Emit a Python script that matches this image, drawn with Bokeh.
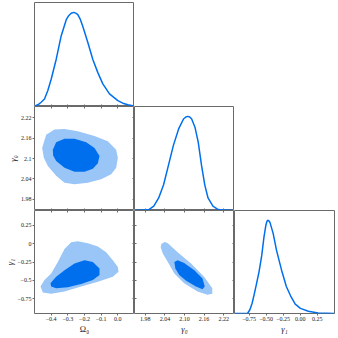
from bokeh.plotting import figure
from bokeh.models import LinearAxis, FixedTicker, Range1d
from bokeh.layouts import gridplot
from bokeh.embed import file_html
from bokeh.resources import INLINE

# ---------------- data ----------------
omega_ticks = [-0.4, -0.3, -0.2, -0.1, 0.0]
omega_labels = ["−0.4", "−0.3", "−0.2", "−0.1", "0.0"]
g0_ticks = [1.98, 2.04, 2.10, 2.16, 2.22]
g0_xlabels = ["1.98", "2.04", "2.10", "2.16", "2.22"]
g0_ylabels = ["1.98", "2.04", "2.1", "2.16", "2.22"]
g1_ticks = [-0.75, -0.5, -0.25, 0.0, 0.25]
g1_xlabels = ["−0.75", "−0.50", "−0.25", "0.00", "0.25"]
g1_ylabels = ["−0.75", "−0.5", "−0.25", "0", "0.25"]

omega_lim = (-0.5, 0.1)
g0_lim = (1.947, 2.253)
g1_lim = (-0.95, 0.45)
g1_diag_lim = (-0.965, 0.505)
dens_lim = (0.0, 1.105)

# 1D marginal of Omega_0
om_x = [-0.50, -0.48, -0.46, -0.44, -0.42, -0.40, -0.37, -0.34, -0.31, -0.295, -0.28,
        -0.264, -0.25, -0.24, -0.225, -0.21, -0.18, -0.15, -0.12, -0.09, -0.05, 0.00,
        0.03, 0.06, 0.10]
om_p = [0.003, 0.018, 0.045, 0.08, 0.17, 0.29, 0.50, 0.75, 0.92, 0.965, 0.99,
        1.0, 0.99, 0.976, 0.925, 0.85, 0.68, 0.50, 0.36, 0.24, 0.134, 0.063,
        0.035, 0.018, 0.004]

# 1D marginal of gamma_0
g0_x = [1.947, 1.970, 1.991, 2.006, 2.021, 2.036, 2.051, 2.066, 2.082, 2.097, 2.104,
        2.110, 2.116, 2.122, 2.132, 2.142, 2.152, 2.162, 2.172, 2.187, 2.203, 2.223,
        2.253]
g0_p = [0.0, 0.004, 0.01, 0.046, 0.133, 0.273, 0.482, 0.692, 0.867, 0.972, 0.993,
        1.0, 0.993, 0.972, 0.885, 0.727, 0.482, 0.273, 0.133, 0.046, 0.01, 0.004,
        0.0]

# 1D marginal of gamma_1
g1_x = [-0.965, -0.774, -0.739, -0.706, -0.677, -0.641, -0.604, -0.565, -0.532, -0.503,
        -0.490, -0.478, -0.462, -0.445, -0.397, -0.348, -0.275, -0.203, -0.141, -0.072,
        0.004, 0.120, 0.265, 0.505]
g1_p = [0.0, 0.0, 0.04, 0.11, 0.20, 0.32, 0.45, 0.62, 0.82, 0.95,
        0.985, 1.0, 0.995, 0.98, 0.86, 0.68, 0.47, 0.29, 0.19, 0.10,
        0.055, 0.025, 0.005, 0.0]

# 2D contours: Omega_0 vs gamma_0
og0_95_x = [-0.454, -0.430, -0.380, -0.320, -0.240, -0.140, -0.060, -0.010, 0.000, -0.010,
            -0.040, -0.100, -0.180, -0.260, -0.320, -0.370, -0.420, -0.444]
og0_95_y = [2.131, 2.170, 2.185, 2.187, 2.180, 2.166, 2.151, 2.126, 2.102, 2.073,
            2.054, 2.039, 2.029, 2.024, 2.029, 2.049, 2.078, 2.102]
og0_68_x = [-0.390, -0.370, -0.320, -0.260, -0.190, -0.140, -0.110, -0.120, -0.150, -0.200,
            -0.260, -0.320, -0.370, -0.388]
og0_68_y = [2.126, 2.148, 2.158, 2.158, 2.148, 2.131, 2.107, 2.086, 2.070, 2.061,
            2.061, 2.073, 2.093, 2.109]

# 2D contours: Omega_0 vs gamma_1
og1_95_x = [-0.464, -0.440, -0.400, -0.360, -0.320, -0.280, -0.240, -0.180, -0.120, -0.070,
            -0.030, 0.000, 0.004, -0.030, -0.120, -0.220, -0.320, -0.400, -0.450]
og1_95_y = [-0.584, -0.495, -0.406, -0.250, -0.072, 0.018, 0.031, 0.004, -0.040, -0.116,
            -0.227, -0.317, -0.384, -0.450, -0.517, -0.584, -0.651, -0.682, -0.665]
og1_68_x = [-0.404, -0.370, -0.320, -0.260, -0.200, -0.150, -0.110, -0.110, -0.150, -0.220,
            -0.300, -0.370, -0.400]
og1_68_y = [-0.540, -0.450, -0.361, -0.272, -0.227, -0.250, -0.339, -0.428, -0.495, -0.548,
            -0.594, -0.607, -0.584]

# 2D contours: gamma_0 vs gamma_1
g01_95_x = [2.029, 2.039, 2.049, 2.079, 2.120, 2.160, 2.185, 2.185, 2.170, 2.140,
            2.099, 2.069, 2.049, 2.034, 2.027]
g01_95_y = [-0.005, 0.022, 0.004, -0.116, -0.272, -0.450, -0.607, -0.682, -0.695, -0.651,
            -0.540, -0.406, -0.250, -0.138, -0.049]
g01_68_x = [2.069, 2.079, 2.099, 2.130, 2.155, 2.162, 2.155, 2.135, 2.105, 2.084, 2.072]
g01_68_y = [-0.250, -0.227, -0.263, -0.361, -0.473, -0.584, -0.620, -0.584, -0.504, -0.428,
            -0.339]

omega_name = "Ω₀"
g0_name = "γ₀"
g1_name = "γ₁"

# ---------------- style ----------------
LINE = "#006FED"
DARK = "#006FED"
LIGHT = "#99C5F7"
FRAME = "#6a6a6a"
TEXT = "#1a1a1a"
FONT = "Liberation Serif"

LEFT_B = 34
BOTTOM_B = 22
TOP_B = 2
RIGHT_B = 2
FW = 100
FH = 104


def make_fig(xlim, ylim, col, row):
    w = FW + (LEFT_B if col == 0 else 0) + (RIGHT_B if col == 2 else 0)
    h = FH + (TOP_B if row == 0 else 0) + (BOTTOM_B if row == 2 else 0)
    p = figure(width=w, height=h, output_backend="svg", toolbar_location=None,
               x_range=Range1d(*xlim), y_range=Range1d(*ylim),
               x_axis_location=None, y_axis_location=None, tools="")
    p.min_border = 0
    p.min_border_left = LEFT_B if col == 0 else 0
    p.min_border_right = RIGHT_B if col == 2 else 0
    p.min_border_top = TOP_B if row == 0 else 0
    p.min_border_bottom = BOTTOM_B if row == 2 else 0
    p.xgrid.visible = False
    p.ygrid.visible = False
    p.outline_line_color = FRAME
    p.outline_line_width = 1
    p.background_fill_color = "white"
    p.border_fill_color = "white"
    return p


def tick_axis(p, side, ticks):
    """Unlabelled inward ticks drawn on a frame edge (takes no layout space)."""
    if side == "below":
        loc = p.y_range.start
    elif side == "above":
        loc = p.y_range.end
    elif side == "left":
        loc = p.x_range.start
    else:
        loc = p.x_range.end
    ax = LinearAxis(ticker=FixedTicker(ticks=ticks), fixed_location=loc)
    ax.axis_line_color = None
    ax.major_tick_line_color = FRAME
    ax.minor_tick_line_color = None
    ax.major_tick_out = 0
    ax.major_tick_in = 2
    ax.major_label_overrides = {t: "" for t in ticks}
    ax.major_label_text_font_size = "0px"
    p.add_layout(ax, side)


def label_axis(p, side, ticks, labels, title, title_style="italic"):
    ax = LinearAxis(ticker=FixedTicker(ticks=ticks))
    ax.axis_line_color = None
    ax.major_tick_line_color = FRAME
    ax.minor_tick_line_color = None
    ax.minor_tick_out = 0
    ax.major_tick_out = 2
    ax.major_tick_in = 0
    ax.major_label_overrides = {t: s for t, s in zip(ticks, labels)}
    ax.major_label_text_font = FONT
    ax.major_label_text_font_size = "6px"
    ax.major_label_text_color = TEXT
    ax.major_label_standoff = 1
    ax.axis_label = title
    ax.axis_label_text_font = FONT
    ax.axis_label_text_font_size = "8.5px"
    ax.axis_label_text_font_style = title_style
    ax.axis_label_text_color = TEXT
    ax.axis_label_standoff = 0
    p.add_layout(ax, side)


# ---- row 0 ----
d0 = make_fig(omega_lim, dens_lim, 0, 0)
d0.line(om_x, om_p, line_color=LINE, line_width=1.5)
tick_axis(d0, "below", omega_ticks)

# ---- row 1 ----
p10 = make_fig(omega_lim, g0_lim, 0, 1)
p10.patch(og0_95_x, og0_95_y, fill_color=LIGHT, line_color=None)
p10.patch(og0_68_x, og0_68_y, fill_color=DARK, line_color=None)
label_axis(p10, "left", g0_ticks, g0_ylabels, g0_name)
tick_axis(p10, "right", g0_ticks)
tick_axis(p10, "below", omega_ticks)
tick_axis(p10, "above", omega_ticks)

d1 = make_fig(g0_lim, dens_lim, 1, 1)
d1.line(g0_x, g0_p, line_color=LINE, line_width=1.5)
tick_axis(d1, "below", g0_ticks)

# ---- row 2 ----
p20 = make_fig(omega_lim, g1_lim, 0, 2)
p20.patch(og1_95_x, og1_95_y, fill_color=LIGHT, line_color=None)
p20.patch(og1_68_x, og1_68_y, fill_color=DARK, line_color=None)
label_axis(p20, "left", g1_ticks, g1_ylabels, g1_name)
label_axis(p20, "below", omega_ticks, omega_labels, omega_name, title_style="normal")
tick_axis(p20, "right", g1_ticks)
tick_axis(p20, "above", omega_ticks)

p21 = make_fig(g0_lim, g1_lim, 1, 2)
p21.patch(g01_95_x, g01_95_y, fill_color=LIGHT, line_color=None)
p21.patch(g01_68_x, g01_68_y, fill_color=DARK, line_color=None)
label_axis(p21, "below", g0_ticks, g0_xlabels, g0_name)
tick_axis(p21, "left", g1_ticks)
tick_axis(p21, "right", g1_ticks)
tick_axis(p21, "above", g0_ticks)

d2 = make_fig(g1_diag_lim, dens_lim, 2, 2)
d2.line(g1_x, g1_p, line_color=LINE, line_width=1.5)
label_axis(d2, "below", g1_ticks, g1_xlabels, g1_name)

grid = gridplot([[d0, None, None], [p10, d1, None], [p20, p21, d2]],
                toolbar_location=None)

open("out.html", "w").write(file_html(grid, INLINE))
